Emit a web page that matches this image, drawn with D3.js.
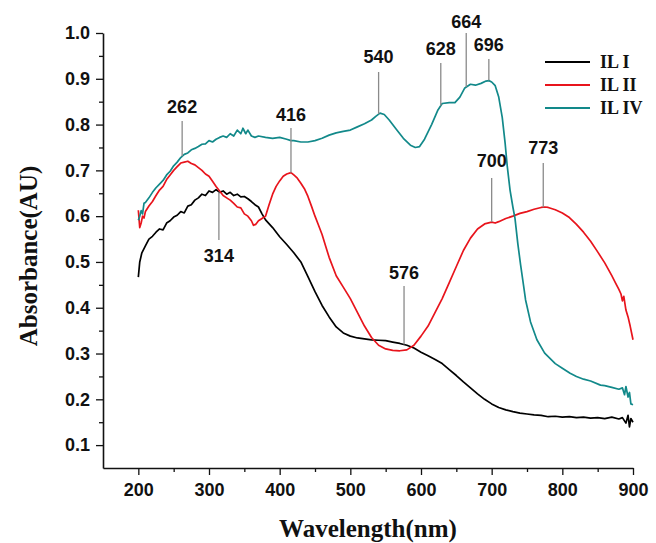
<!DOCTYPE html>
<html>
<head>
<meta charset="utf-8">
<script src="https://cdn.jsdelivr.net/npm/d3@7"></script>
<style>
  html, body { margin: 0; padding: 0; background: #fff; }
  svg { display: block; }
</style>
</head>
<body>
<svg id="chart" width="656" height="543"></svg>
<script>
// UV-Vis absorbance spectra of three ionic liquids

// IL I
const wlIL1 = [200,202,205,210,215,220,225,230,235,240,245,250,255,260,265,270,275,280,285,290,295,300,305,310,315,320,325,330,335,340,345,350,355,360,365,370,375,380,390,400,410,420,430,440,450,460,470,480,490,500,510,520,530,540,550,560,570,580,590,600,610,620,630,640,650,660,670,680,690,700,710,720,730,740,750,760,770,780,790,800,810,820,830,840,850,860,870,880,885,890,893,895,897,900];
const absIL1 = [0.467,0.500,0.520,0.535,0.550,0.556,0.565,0.572,0.570,0.585,0.590,0.598,0.602,0.610,0.607,0.622,0.625,0.635,0.640,0.648,0.645,0.655,0.652,0.658,0.652,0.655,0.648,0.652,0.645,0.648,0.642,0.643,0.638,0.632,0.625,0.620,0.605,0.592,0.575,0.555,0.538,0.520,0.500,0.468,0.435,0.405,0.380,0.358,0.345,0.338,0.334,0.332,0.330,0.329,0.328,0.325,0.322,0.318,0.312,0.303,0.295,0.287,0.278,0.265,0.252,0.238,0.225,0.212,0.200,0.190,0.182,0.177,0.173,0.170,0.168,0.166,0.165,0.162,0.163,0.161,0.162,0.160,0.161,0.159,0.160,0.158,0.161,0.157,0.160,0.148,0.165,0.140,0.158,0.150];

// IL II
const wlIL2 = [200,202,204,206,208,210,215,220,225,230,235,240,245,250,255,260,265,270,275,280,285,290,295,300,305,310,315,320,325,330,335,340,345,350,355,360,363,366,370,375,380,385,390,395,400,405,410,416,420,425,430,435,440,445,450,455,460,465,470,480,490,500,510,520,530,540,550,560,570,580,590,600,610,620,630,640,650,660,670,680,690,700,705,710,720,730,740,750,760,770,775,780,790,800,810,820,830,840,850,860,870,875,880,883,885,887,890,893,896,900];
const absIL2 = [0.613,0.575,0.585,0.600,0.596,0.610,0.622,0.632,0.645,0.657,0.665,0.680,0.690,0.700,0.708,0.716,0.718,0.720,0.715,0.712,0.706,0.700,0.692,0.687,0.676,0.665,0.655,0.645,0.640,0.635,0.628,0.620,0.618,0.605,0.600,0.590,0.580,0.582,0.590,0.595,0.600,0.625,0.648,0.665,0.677,0.687,0.692,0.695,0.690,0.683,0.672,0.660,0.643,0.622,0.600,0.580,0.560,0.535,0.510,0.470,0.445,0.420,0.390,0.360,0.335,0.318,0.310,0.307,0.306,0.308,0.318,0.338,0.360,0.390,0.420,0.455,0.490,0.525,0.552,0.572,0.583,0.587,0.585,0.588,0.595,0.600,0.606,0.610,0.615,0.619,0.620,0.619,0.614,0.607,0.597,0.582,0.565,0.545,0.522,0.498,0.470,0.455,0.440,0.430,0.415,0.425,0.395,0.380,0.360,0.330];

// IL IV
const wlIL4 = [200,202,204,206,208,210,215,220,225,230,235,240,245,250,255,260,265,270,275,280,285,290,295,300,305,310,315,320,325,330,335,340,345,348,352,355,360,365,370,380,390,400,410,416,420,430,440,450,460,470,480,490,500,510,520,530,536,542,548,555,565,575,585,592,598,605,615,624,630,640,648,655,662,670,677,685,692,696,700,705,710,715,719,722,726,730,733,737,741,745,748,755,764,775,790,800,811,820,830,840,854,860,870,880,885,888,890,893,895,897,900];
const absIL4 = [0.591,0.600,0.612,0.605,0.628,0.630,0.640,0.652,0.662,0.670,0.678,0.690,0.698,0.710,0.718,0.728,0.735,0.738,0.745,0.748,0.752,0.757,0.758,0.765,0.762,0.768,0.772,0.775,0.772,0.780,0.775,0.788,0.780,0.792,0.780,0.788,0.775,0.772,0.775,0.772,0.770,0.772,0.768,0.765,0.765,0.762,0.762,0.765,0.770,0.777,0.782,0.785,0.788,0.795,0.802,0.810,0.818,0.825,0.822,0.810,0.790,0.770,0.755,0.750,0.752,0.768,0.800,0.832,0.846,0.848,0.848,0.860,0.880,0.888,0.886,0.890,0.895,0.896,0.893,0.885,0.860,0.815,0.760,0.710,0.657,0.620,0.595,0.540,0.493,0.450,0.417,0.369,0.330,0.301,0.278,0.268,0.257,0.250,0.244,0.240,0.231,0.230,0.226,0.222,0.225,0.210,0.228,0.205,0.215,0.190,0.188];

const seriesNames = ["IL I", "IL II", "IL IV"];
const seriesColors = ["#000000", "#e8141c", "#12898a"];

// Peak annotations: wavelength and the spectrum it marks
const peakValues = [262, 314, 416, 540, 628, 664, 696, 700, 773, 576];
const peakSeries = ["IL IV", "IL I", "IL II", "IL IV", "IL IV", "IL IV", "IL IV", "IL II", "IL II", "IL I"];

const xTicks = [200, 300, 400, 500, 600, 700, 800, 900];
const yTicks = [0.1, 0.2, 0.3, 0.4, 0.5, 0.6, 0.7, 0.8, 0.9, 1.0];

// ---- layout ----
const svg = d3.select("#chart");
const plot = { left: 103, right: 633, top: 33, bottom: 468 };

// label placement for each peak: line end (px) away from the curve and text baseline
const peakLayout = [
  { lineEnd: 121, textY: 113 },
  { lineEnd: 240, textY: 262 },
  { lineEnd: 128, textY: 121 },
  { lineEnd: 72,  textY: 63 },
  { lineEnd: 63,  textY: 55 },
  { lineEnd: 33,  textY: 28 },
  { lineEnd: 59,  textY: 51 },
  { lineEnd: 178, textY: 167 },
  { lineEnd: 163, textY: 154 },
  { lineEnd: 286, textY: 279 }
];

const x = d3.scaleLinear().domain([150, 900]).range([plot.left, plot.right]);
const y = d3.scaleLinear().domain([0.05, 1.0]).range([plot.bottom, plot.top]);

const spectra = [
  { name: seriesNames[0], color: seriesColors[0], pts: wlIL1.map((w, i) => [w, absIL1[i]]) },
  { name: seriesNames[1], color: seriesColors[1], pts: wlIL2.map((w, i) => [w, absIL2[i]]) },
  { name: seriesNames[2], color: seriesColors[2], pts: wlIL4.map((w, i) => [w, absIL4[i]]) }
];

// ---- axes ----
const tickFont = "'Liberation Sans', Arial, sans-serif";
const titleFont = "'Liberation Serif', 'Times New Roman', serif";

const xAxis = svg.append("g")
  .attr("transform", `translate(0,${plot.bottom})`)
  .call(d3.axisBottom(x).tickValues(xTicks).tickFormat(d3.format("d"))
    .tickSize(7).tickSizeOuter(0).tickPadding(8));
svg.append("g")
  .attr("transform", `translate(0,${plot.bottom})`)
  .call(d3.axisBottom(x).tickValues(d3.range(250, 900, 100)).tickFormat("")
    .tickSize(4).tickSizeOuter(0))
  .select(".domain").remove();

const yAxis = svg.append("g")
  .attr("transform", `translate(${plot.left},0)`)
  .call(d3.axisLeft(y).tickValues(yTicks).tickFormat(d3.format(".1f"))
    .tickSize(7).tickSizeOuter(0).tickPadding(6));
svg.append("g")
  .attr("transform", `translate(${plot.left},0)`)
  .call(d3.axisLeft(y).tickValues(d3.range(0.15, 1.0, 0.1)).tickFormat("")
    .tickSize(4).tickSizeOuter(0))
  .select(".domain").remove();

svg.selectAll(".domain").attr("stroke", "#111").attr("stroke-width", 1.6);
svg.selectAll(".tick line").attr("stroke", "#111").attr("stroke-width", 1.3);
[xAxis, yAxis].forEach(g => g.selectAll(".tick text")
  .attr("font-family", tickFont).attr("font-weight", "bold")
  .attr("font-size", 18).attr("fill", "#111"));

svg.append("text")
  .attr("x", 368).attr("y", 537)
  .attr("text-anchor", "middle")
  .attr("font-family", titleFont).attr("font-weight", "bold").attr("font-size", 25)
  .attr("fill", "#111")
  .text("Wavelength(nm)");

svg.append("text")
  .attr("transform", "translate(37,256) rotate(-90)")
  .attr("text-anchor", "middle")
  .attr("font-family", titleFont).attr("font-weight", "bold").attr("font-size", 25)
  .attr("fill", "#111")
  .text("Absorbance(AU)");

// ---- spectra ----
const line = d3.line().x(d => x(d[0])).y(d => y(d[1]));
svg.append("g").selectAll("path")
  .data(spectra)
  .join("path")
  .attr("d", d => line(d.pts))
  .attr("fill", "none")
  .attr("stroke", d => d.color)
  .attr("stroke-width", 1.7)
  .attr("stroke-linejoin", "round");

// ---- peak markers ----
function valueAt(pts, w) {
  const i = d3.bisector(d => d[0]).left(pts, w);
  if (i <= 0) return pts[0][1];
  if (i >= pts.length) return pts[pts.length - 1][1];
  const a = pts[i - 1], b = pts[i];
  return a[1] + (b[1] - a[1]) * (w - a[0]) / (b[0] - a[0]);
}

const marks = svg.append("g");
peakValues.forEach((w, i) => {
  const s = spectra.find(d => d.name === peakSeries[i]);
  const px = x(w);
  const py = y(valueAt(s.pts, w));
  const lay = peakLayout[i];
  marks.append("line")
    .attr("x1", px).attr("x2", px)
    .attr("y1", py).attr("y2", lay.lineEnd)
    .attr("stroke", "#8a8a8a").attr("stroke-width", 1.3);
  marks.append("text")
    .attr("x", px).attr("y", lay.textY)
    .attr("text-anchor", "middle")
    .attr("font-family", tickFont).attr("font-weight", "bold").attr("font-size", 18)
    .attr("fill", "#111")
    .text(w);
});

// ---- legend ----
const legend = svg.append("g").attr("transform", "translate(545,62)");
spectra.forEach((s, i) => {
  const g = legend.append("g").attr("transform", `translate(0,${i * 23})`);
  g.append("line").attr("x1", 0).attr("x2", 45).attr("y1", 0).attr("y2", 0)
    .attr("stroke", s.color).attr("stroke-width", 2);
  g.append("text").attr("x", 55).attr("y", 6)
    .attr("font-family", titleFont).attr("font-weight", "bold").attr("font-size", 18)
    .attr("fill", "#111")
    .text(s.name);
});
</script>
</body>
</html>
